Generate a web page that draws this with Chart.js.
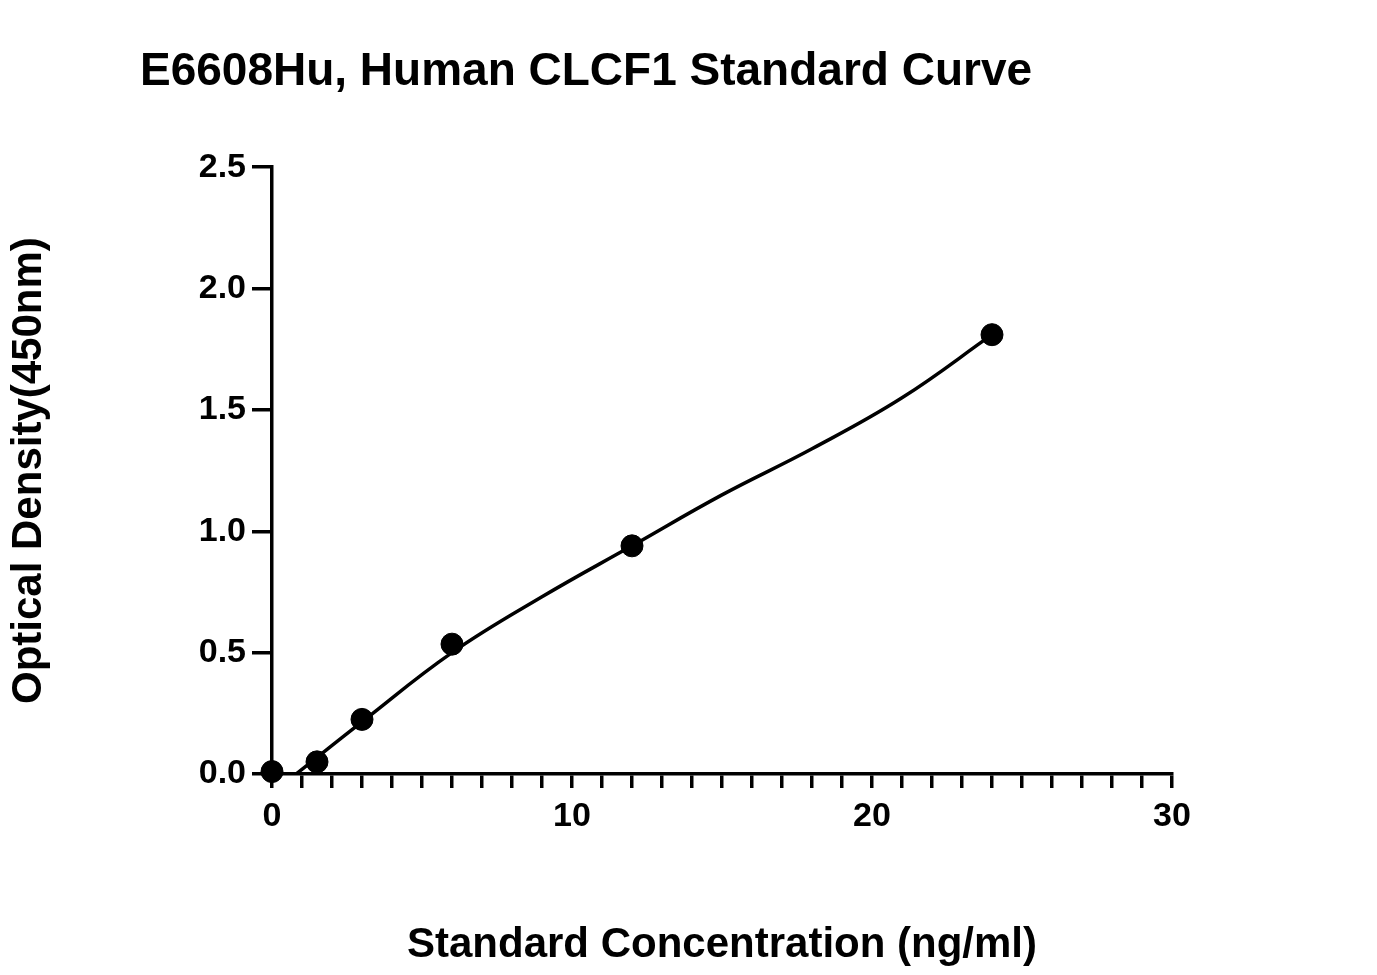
<!DOCTYPE html>
<html>
<head>
<style>
  body { margin: 0; background: #fff; }
</style>
</head>
<body>
<canvas id="myChart" width="1377" height="975"></canvas>
<script src="https://cdn.jsdelivr.net/npm/chart.js"></script>
<script>
// standard points
const concentrations = [0, 1.5, 3, 6, 12, 24];
const odValues = [0.01, 0.05, 0.225, 0.535, 0.94, 1.81];

// fitted curve
const curveX = [0.8, 3, 6, 9, 12, 15, 18, 21, 24];
const curveY = [0, 0.215, 0.5, 0.73, 0.94, 1.15, 1.34, 1.55, 1.81];

const titleText = 'E6608Hu, Human CLCF1 Standard Curve';
const xTitle = 'Standard Concentration (ng/ml)';
const yTitle = 'Optical Density(450nm)';

const font = 'Arial, "Liberation Sans", sans-serif';
Chart.defaults.font.family = font;
Chart.defaults.color = '#000';

const ctx = document.getElementById('myChart');

new Chart(ctx, {
  type: 'scatter',
  data: {
    datasets: [
      {
        type: 'line',
        data: curveX.map((x, i) => ({ x: x, y: curveY[i] })),
        borderColor: '#000',
        borderWidth: 3.5,
        pointRadius: 0,
        tension: 0.4,
        fill: false
      },
      {
        data: concentrations.map((x, i) => ({ x: x, y: odValues[i] })),
        backgroundColor: '#000',
        borderColor: '#000',
        pointRadius: 11,
        clip: false
      }
    ]
  },
  options: {
    responsive: false,
    animation: false,
    devicePixelRatio: 1,
    layout: { padding: { left: 0, right: 205, top: 0, bottom: 0 } },
    plugins: {
      legend: { display: false },
      tooltip: { enabled: false },
      title: {
        display: true,
        text: titleText,
        font: { size: 46, weight: 'bold' },
        padding: { top: 45, bottom: 67 }
      }
    },
    scales: {
      x: {
        type: 'linear',
        min: 0, max: 30,
        border: { color: '#000', width: 3.5 },
        grid: { drawOnChartArea: false, color: '#000', lineWidth: 3.5, tickLength: 14 },
        ticks: {
          stepSize: 1,
          autoSkip: false,
          maxRotation: 0,
          font: { size: 34, weight: 'bold' },
          padding: 8,
          callback: v => (v % 10 === 0 ? v : '')
        },
        title: {
          display: true,
          text: xTitle,
          font: { size: 42, weight: 'bold' },
          padding: { top: 10 }
        },
        afterFit: s => { s.height = 201; }
      },
      y: {
        min: 0, max: 2.5,
        border: { color: '#000', width: 3.5 },
        grid: { drawOnChartArea: false, color: '#000', lineWidth: 3.5, tickLength: 20 },
        ticks: {
          stepSize: 0.5,
          font: { size: 34, weight: 'bold' },
          padding: 6,
          callback: v => v.toFixed(1)
        },
        title: {
          display: true,
          text: yTitle,
          font: { size: 42, weight: 'bold' },
          padding: { bottom: 30 }
        },
        afterFit: s => { s.width = 272; }
      }
    }
  },
  plugins: [{
    id: 'bg',
    beforeDraw: c => {
      const g = c.ctx;
      g.save();
      g.fillStyle = '#fff';
      g.fillRect(0, 0, c.width, c.height);
      g.restore();
    }
  }]
});
</script>
</body>
</html>
